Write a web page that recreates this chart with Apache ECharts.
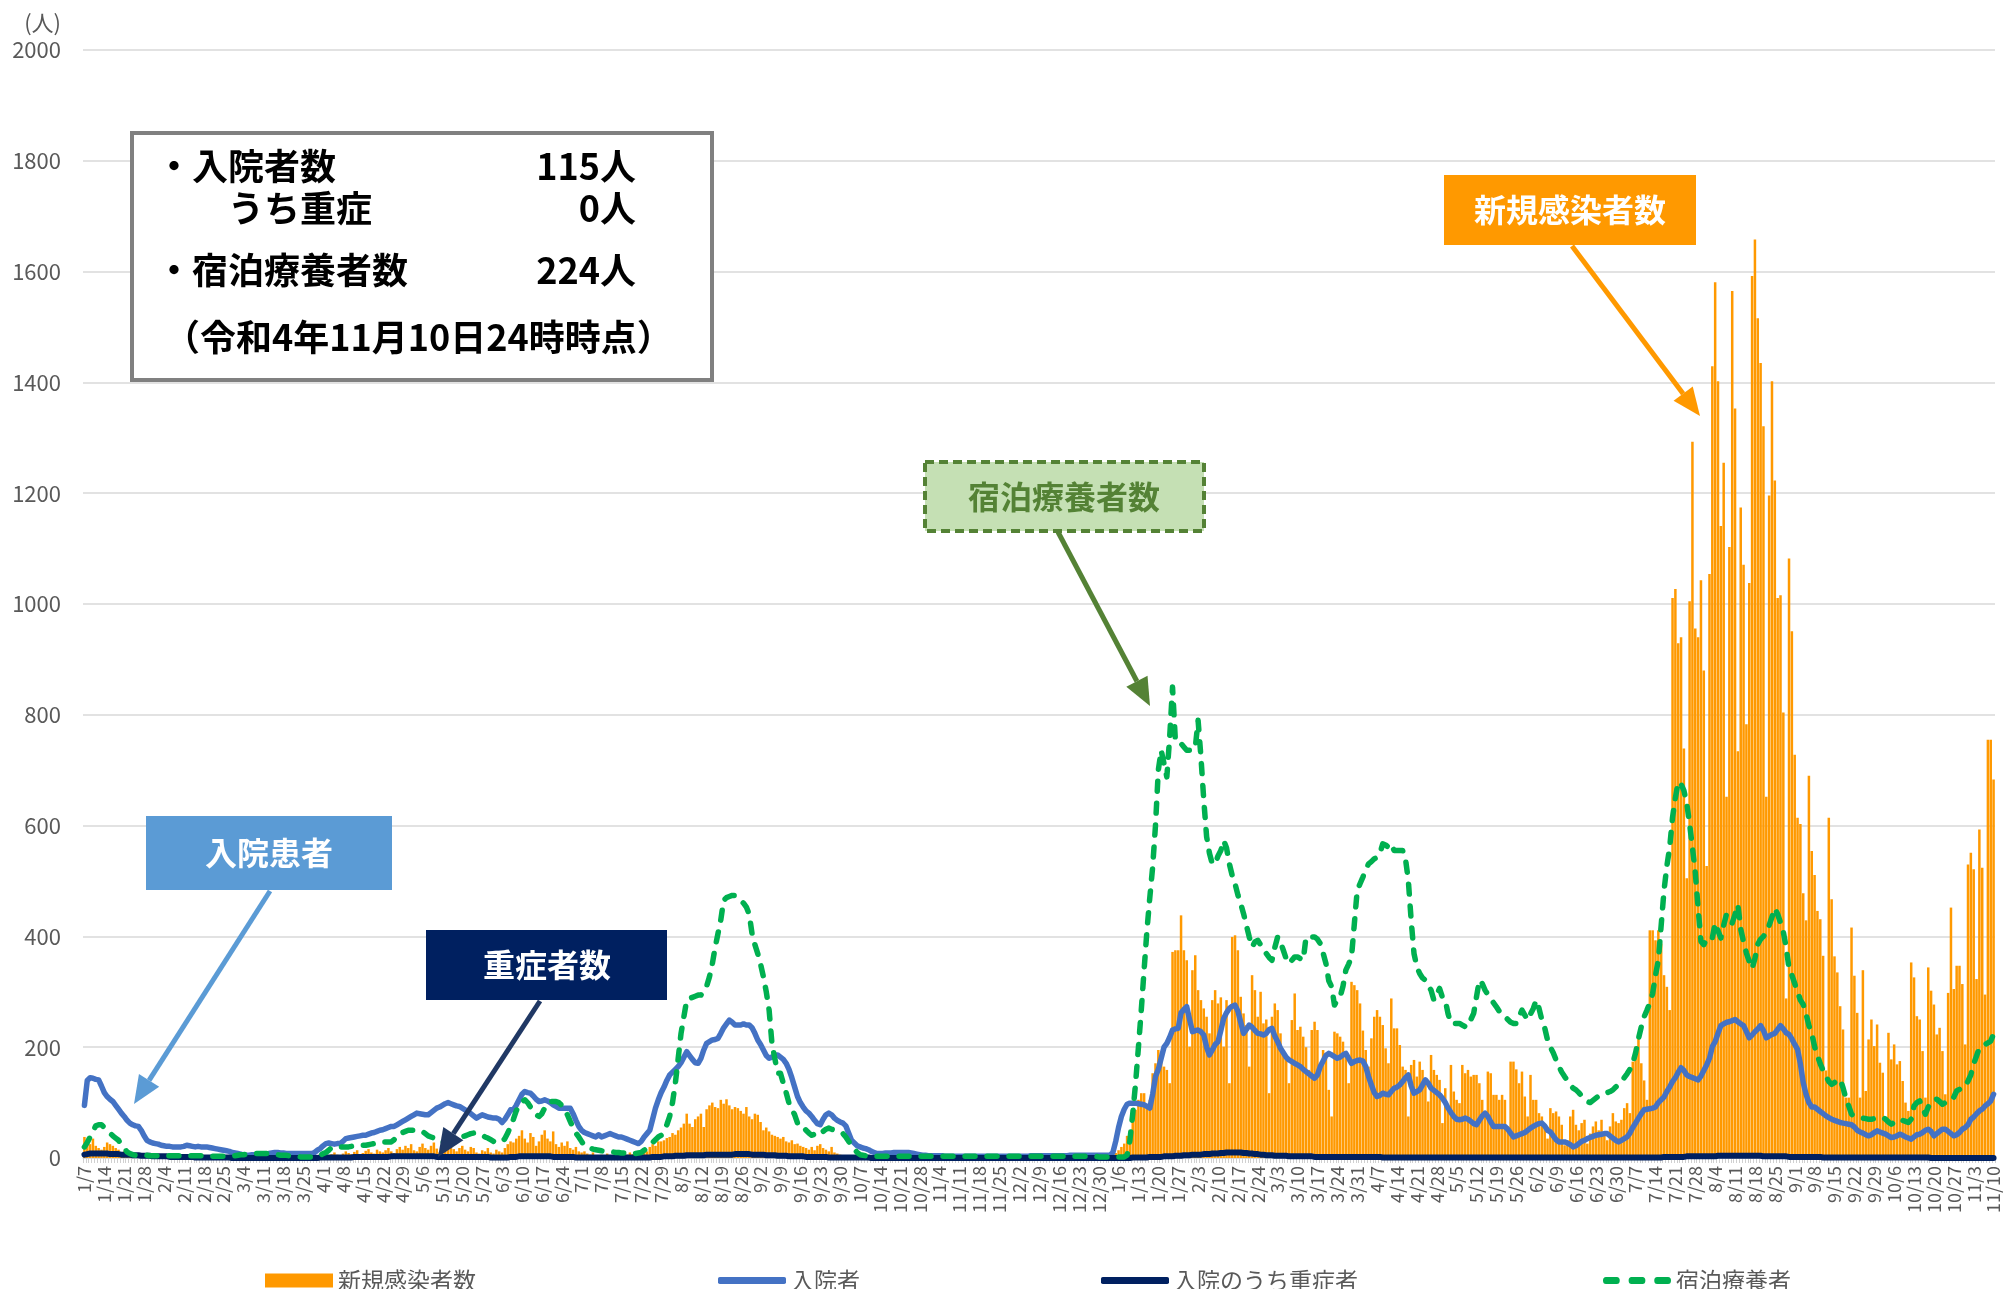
<!DOCTYPE html>
<html><head><meta charset="utf-8">
<script src="https://cdn.jsdelivr.net/npm/echarts@6/dist/echarts.min.js"></script>
<style>html,body{margin:0;padding:0;background:#fff}#c{width:2008px;height:1289px}</style>
</head><body><div id="c"></div>
<script>
// 2021-01-07 .. 2022-11-10 (673 days), one row per week starting on Thursday
const startDate = [2021, 1, 7];
const dayCount = 673;

const newCases = [
38,30,25,35,22,18,15, 20,28,25,22,18,15,10, 12,10,8,9,7,6,5, 6,5,4,6,3,4,3,
3,2,4,3,2,1,2, 2,3,1,2,1,0,1, 1,2,0,1,2,1,0, 1,0,1,2,1,0,1,
2,1,1,0,2,1,3, 2,1,2,1,0,1,2, 1,0,2,1,1,0,1, 2,1,3,2,4,3,5,
6,8,5,7,10,6,4, 8,12,9,7,11,14,6, 9,13,16,10,8,15,12, 10,14,18,12,9,16,20,
15,22,18,25,14,12,20, 26,18,15,22,28,17,10, 20,25,30,22,16,12,18, 22,15,12,20,18,10,8,
14,12,18,10,8,15,12, 10,18,25,30,28,35,40, 50,35,28,45,38,22,30, 42,50,35,30,48,25,20,
28,22,30,18,15,20,12, 10,12,8,6,10,5,4, 6,4,8,5,3,6,4, 5,8,6,10,7,12,9,
14,18,12,20,25,22,30, 30,32,36,38,45,42,50, 55,62,80,62,56,70,75, 80,56,88,95,100,92,90,
105,98,106,95,88,92,90, 85,80,92,75,70,80,78, 65,50,55,48,42,40,38, 35,38,30,28,32,25,26,
22,20,18,15,20,14,22, 25,18,15,12,20,10,8, 6,5,4,3,2,3,2, 2,1,2,1,1,0,1,
1,0,1,0,0,1,0, 0,1,0,0,0,1,0, 0,0,1,0,0,0,0, 0,0,0,1,0,0,0,
0,0,0,0,0,1,0, 0,0,0,0,0,0,0, 0,1,0,0,0,0,0, 0,0,0,0,1,0,0,
0,0,0,0,0,0,1, 0,0,0,1,0,0,0, 0,0,0,0,1,0,1, 1,1,2,3,4,6,9,
14,20,26,40,50,75,87, 105,117,117,93,105,153,171, 195,189,165,159,135,372,375, 375,438,375,357,201,339,366,
303,285,270,255,225,285,303, 279,290,201,285,135,399,402, 375,291,261,240,165,330,303, 255,300,243,250,117,255,279,
267,225,195,180,135,249,297, 231,237,219,200,159,231,246, 231,171,195,180,123,75,228, 225,219,210,190,135,318,312,
303,279,230,195,165,216,255, 267,255,240,198,171,288,234, 234,204,165,159,75,168,177, 147,174,159,140,102,186,159,
150,141,63,126,87,168,120, 105,99,168,153,159,147,150, 150,135,105,81,156,153,114, 114,105,114,105,57,174,174,
160,135,156,111,75,150,105, 105,81,75,55,35,90,81, 84,75,60,23,32,75,87, 60,50,63,69,26,44,57,
66,50,69,45,32,57,81, 66,63,69,90,99,81,174, 201,219,171,140,105,411,411, 393,411,387,330,309,267,1011,
1027,929,940,739,505,1005,1293, 956,940,1043,880,527,1054,1429, 1581,1402,1141,1255,652,1103,1565, 1353,734,1174,1071,783,1038,1592,
1658,1516,1435,1321,652,1196,1402, 1223,1011,1016,804,288,1082,951, 728,614,603,478,429,690,554, 511,446,431,365,158,614,467,
364,335,274,232,109,109,416, 329,262,109,339,121,214,250, 202,241,172,154,73,226,178, 205,169,175,139,100,85,353,
326,256,250,193,109,344,302, 277,223,235,193,115,298,452, 305,347,347,314,205,530,551, 521,323,593,524,295,755,755,
683
];

const hospitalized = [
95,140,145,144,142,141,130, 118,111,106,102,95,88,81, 75,68,63,60,58,57,50, 40,32,29,27,26,25,23,
22,21,21,20,20,20,20, 21,23,22,21,20,21,20, 20,20,19,18,17,16,15, 14,13,12,10,9,8,7,
5,5,5,6,6,7,7, 7,7,8,9,10,10,9, 9,8,8,8,8,8,8, 8,8,8,8,10,14,17,
22,26,27,26,25,26,26, 30,35,36,37,38,39,40, 41,41,43,45,46,48,50, 51,53,55,57,57,60,63,
66,69,72,75,78,81,80, 79,78,78,82,86,90,92, 95,98,100,98,96,94,93, 90,87,84,80,76,72,75,
78,76,74,73,72,72,70, 64,70,78,87,87,95,105, 115,120,118,117,112,106,102, 103,105,103,100,96,93,90,
90,90,90,90,80,68,57, 50,46,44,42,40,38,42, 38,40,42,44,42,40,38, 38,36,34,32,30,28,26,
30,38,44,50,70,90,105, 118,128,140,150,155,160,165, 172,182,192,185,178,172,171, 180,195,207,210,213,214,216,
225,235,242,249,245,240,240, 240,242,240,240,235,225,213, 205,195,185,180,182,185,186, 182,178,171,160,145,128,111,
100,92,85,81,75,68,62, 60,70,78,81,78,72,68, 65,63,58,45,32,27,22, 20,18,17,15,12,10,8,
8,8,9,9,9,10,10, 10,10,10,10,9,8,7, 6,5,5,4,4,4,4, 4,4,3,3,3,3,3,
3,3,3,3,3,3,3, 3,3,3,3,3,3,3, 3,3,3,3,3,3,3, 3,3,3,3,4,4,4,
4,4,4,4,4,4,4, 4,4,4,4,5,5,5, 5,5,5,5,5,5,5, 5,5,5,5,5,10,30,
55,75,88,97,99,99,99, 98,97,96,93,90,115,147, 160,180,200,207,218,231,233, 234,262,268,273,250,228,230,
231,228,222,200,186,195,205, 210,230,252,262,270,274,276, 265,245,225,232,240,236,230, 225,224,222,225,232,234,220,
210,198,190,182,177,174,171, 168,165,160,156,152,148,144, 150,165,175,185,189,186,183, 180,182,186,189,180,171,174,
176,177,175,165,147,132,118, 111,113,117,115,114,120,126, 128,132,138,145,150,130,117, 120,123,132,141,135,126,122,
118,114,108,100,90,82,75, 70,69,70,72,70,66,62, 60,68,76,81,75,65,57, 57,57,57,57,52,45,38,
40,42,44,46,50,54,57, 60,62,63,58,50,47,40, 33,29,29,29,27,24,20, 22,26,30,32,35,37,39,
41,42,43,44,44,40,36, 32,29,32,35,38,45,55, 63,72,80,87,88,89,90, 92,100,105,110,120,128,138,
145,155,163,158,150,147,145, 143,141,148,158,168,180,201, 210,225,239,242,245,246,248, 250,246,242,239,228,217,222,
228,233,239,230,217,220,223, 225,232,239,233,226,223,215, 205,196,170,136,115,100,92, 92,88,84,80,76,73,70,
68,66,64,63,62,61,60, 56,50,47,45,42,40,42, 46,49,47,45,43,40,37, 38,40,43,41,38,36,34,
38,42,43,46,50,52,48, 40,44,48,52,52,48,44, 40,42,46,52,55,60,70, 74,80,85,88,94,98,103,
115
];

const severe = [
6,7,8,8,8,8,8, 8,8,7,7,7,7,6, 6,6,6,5,5,5,4, 4,4,4,3,3,3,3,
3,3,2,2,2,2,2, 2,2,2,2,1,1,1, 1,1,1,1,1,1,1, 1,1,1,0,0,0,0,
0,0,0,0,0,0,0, 0,0,0,0,0,0,0, 0,0,0,0,0,0,0, 0,0,0,0,0,0,1,
1,1,1,1,1,1,1, 1,1,1,1,2,2,2, 2,2,2,2,2,2,2, 2,2,2,3,3,3,3,
3,3,3,3,3,3,3, 3,3,3,3,3,2,2, 2,2,2,2,2,2,2, 2,2,2,2,2,2,2,
2,2,2,1,1,1,1, 1,1,1,2,2,2,3, 3,3,3,3,3,3,3, 3,3,3,3,2,2,2,
2,2,2,2,2,1,1, 1,1,1,1,1,1,1, 1,1,1,1,1,1,1, 1,1,1,1,1,1,1,
1,1,1,1,2,2,2, 2,3,3,3,3,4,4, 4,4,5,5,5,5,5, 5,5,6,6,6,6,6,
6,6,6,6,6,7,7, 7,7,7,7,6,6,6, 6,6,5,5,5,5,4, 4,4,4,3,3,3,3,
3,3,2,2,2,2,2, 2,2,2,1,1,1,1, 1,1,1,1,1,1,1, 1,1,1,1,0,0,0,
0,0,0,0,0,0,0, 0,0,0,0,0,0,0, 0,0,0,0,0,0,0, 0,0,0,0,0,0,0,
0,0,0,0,0,0,0, 0,0,0,0,0,0,0, 0,0,0,0,0,0,0, 0,0,0,0,0,0,0,
0,0,0,0,0,0,0, 0,0,0,0,0,0,0, 0,0,0,0,0,0,0, 0,0,0,0,0,0,0,
0,0,0,0,0,1,1, 1,1,1,1,2,2,2, 2,2,3,3,3,3,4, 4,4,5,5,5,6,6,
6,6,7,7,7,8,8, 8,9,9,10,10,10,10, 10,10,9,9,8,8,7, 7,6,6,5,5,5,4,
4,4,4,4,3,3,3, 3,3,3,3,3,3,2, 2,2,2,2,2,2,2, 2,2,2,2,2,2,2,
2,2,2,2,2,2,2, 2,2,1,1,1,1,1, 1,1,1,1,1,1,1, 1,1,1,1,1,1,1,
1,1,1,1,1,1,1, 1,1,1,1,1,1,1, 1,1,1,1,1,1,1, 1,1,1,1,1,1,1,
1,1,1,1,1,1,1, 1,1,1,1,1,1,1, 1,1,1,1,1,1,1, 1,1,1,1,1,1,1,
1,1,1,1,1,1,1, 1,1,1,1,1,1,1, 1,1,1,1,1,1,1, 1,1,1,2,2,2,2,
2,2,2,2,3,3,3, 3,3,3,3,3,3,3, 3,4,4,4,4,4,4, 4,4,4,4,4,4,4,
4,4,4,3,3,3,3, 3,3,3,3,3,2,2, 2,2,2,2,2,2,2, 2,2,2,1,1,1,1,
1,1,1,1,1,1,1, 1,1,1,1,1,1,1, 1,1,1,1,1,1,1, 1,1,1,1,1,1,1,
1,1,1,1,1,1,0, 0,0,0,0,0,0,0, 0,0,0,0,0,0,0, 0,0,0,0,0,0,0,
0
];

const lodging = [
20,28,38,48,58,60,60, 55,50,45,40,36,32,24, 18,11,8,6,5,5,5, 5,5,4,4,4,4,4,
4,4,4,4,4,4,4, 4,4,4,4,4,4,4, 4,3,3,3,3,3,3, 3,3,3,3,4,5,6,
6,7,7,8,8,8,8, 8,8,8,8,7,6,5, 5,5,4,4,3,3,2, 2,2,2,2,3,4,5,
8,10,14,19,19,19,20, 20,20,20,21,21,22,22, 23,23,24,25,26,27,29, 29,29,29,29,33,39,45,
46,48,50,50,50,50,50, 48,44,40,38,36,32,29, 29,29,29,29,30,33,36, 38,40,42,44,45,45,43,
41,38,36,33,30,29,29, 29,35,45,57,70,85,96, 101,105,100,92,85,78,75, 80,90,98,102,102,102,100,
95,88,78,66,55,45,38, 30,22,20,18,16,15,14, 13,12,12,11,11,10,10, 9,9,9,8,8,8,9,
10,14,18,23,28,33,38, 41,50,60,75,100,135,180, 225,255,285,288,290,292,294, 294,300,310,327,350,380,405,
430,465,470,472,474,474,470, 465,460,453,440,405,385,369, 350,327,300,267,207,180,153, 153,135,118,99,88,78,63,
63,56,50,45,41,43,48, 45,48,52,54,52,50,48, 46,44,38,30,23,16,10, 6,5,4,3,3,3,3,
3,3,3,3,3,3,3, 3,3,3,3,3,3,3, 3,3,3,3,3,3,3, 3,3,3,3,3,3,3,
3,3,3,3,3,3,3, 3,3,3,3,3,3,3, 3,3,3,3,3,3,3, 3,3,3,3,3,3,3,
3,3,3,3,3,3,3, 3,3,3,3,3,3,3, 3,3,3,3,3,3,3, 2,2,2,2,2,2,2,
2,2,2,5,32,80,135, 200,267,340,411,470,525,600, 700,736,712,688,760,850,754, 754,748,742,736,736,736,740,
790,724,646,580,550,531,531, 545,555,573,560,531,510,495, 475,459,441,420,399,381,390, 393,385,375,369,362,357,380,
399,390,375,360,351,357,363, 363,360,357,399,399,399,399, 395,387,370,351,320,309,276, 285,291,310,339,350,363,423,
483,495,507,520,531,535,540, 543,550,567,565,561,567,555, 555,555,555,540,501,429,369, 345,333,325,321,310,303,285,
295,306,290,285,260,243,243, 243,243,240,237,237,250,261, 291,321,315,303,295,288,280, 273,265,258,255,250,245,243,
243,255,267,258,249,260,270, 285,270,249,235,213,200,190, 177,165,155,147,140,132,126, 123,118,112,107,102,100,104,
108,112,114,116,118,120,123, 128,133,138,145,152,160,171, 190,215,237,255,267,280,297, 330,357,420,483,527,561,615,
650,679,675,663,640,603,560, 516,451,391,385,395,400,397, 424,410,397,420,440,430,424, 440,457,413,390,370,355,342,
360,386,395,400,408,420,435, 451,440,425,408,380,342,330, 315,300,285,277,260,239,225, 201,185,170,158,148,138,133,
136,141,142,127,108,94,79, 76,74,73,72,71,70,70, 71,73,73,73,70,65,61, 64,68,70,68,66,64,70,
94,100,103,90,79,92,103, 105,106,102,97,100,103,103, 110,121,124,124,130,139,150, 170,184,199,202,205,208,211,
224
];

const yTicks = { min: 0, max: 2000, interval: 200 };
const seriesNames = ['新規感染者数', '入院者', '入院のうち重症者', '宿泊療養者'];

// category labels M/D for each day
const categories = [];
{
  const d = new Date(startDate[0], startDate[1] - 1, startDate[2]);
  for (let i = 0; i < dayCount; i++) {
    categories.push((d.getMonth() + 1) + '/' + d.getDate());
    d.setDate(d.getDate() + 1);
  }
}

const FONT = '"Noto Sans CJK JP", "Noto Sans", sans-serif';

function arrow(x1, y1, x2, y2, color, w, hl, hw) {
  const dx = x2 - x1, dy = y2 - y1, L = Math.hypot(dx, dy), ux = dx / L, uy = dy / L;
  const bx = x2 - ux * hl, by = y2 - uy * hl, px = -uy, py = ux;
  return [
    { type: 'line', z: 100, shape: { x1: x1, y1: y1, x2: bx, y2: by }, style: { stroke: color, lineWidth: w } },
    { type: 'polygon', z: 100, shape: { points: [[x2, y2], [bx + px * hw / 2, by + py * hw / 2], [bx - px * hw / 2, by - py * hw / 2]] }, style: { fill: color } }
  ];
}
function txt(x, y, s, font, fill, align) {
  return { type: 'text', z: 101, x: x, y: y, style: { text: s, font: font, fill: fill, textAlign: align || 'left', textVerticalAlign: 'middle' } };
}
function box(x, y, w, h, fill, stroke, lw, dash) {
  const st = { fill: fill };
  if (stroke) { st.stroke = stroke; st.lineWidth = lw; }
  if (dash) st.lineDash = dash;
  return { type: 'rect', z: 99, shape: { x: x, y: y, width: w, height: h }, style: st };
}

const infoFont = 'bold 36px ' + FONT;
const labFont = 'bold 32px ' + FONT;
const graphics = [
  txt(61, 23, '(人)', '22px ' + FONT, '#595959', 'right'),
  box(132, 133, 580, 247, '#ffffff', '#808080', 4),
  txt(156, 166, '・入院者数', infoFont, '#000'),
  txt(636, 166, '115人', infoFont, '#000', 'right'),
  txt(228, 208, 'うち重症', infoFont, '#000'),
  txt(636, 208, '0人', infoFont, '#000', 'right'),
  txt(156, 270, '・宿泊療養者数', infoFont, '#000'),
  txt(636, 270, '224人', infoFont, '#000', 'right'),
  txt(164, 337, '（令和4年11月10日24時時点）', infoFont, '#000'),
  box(146, 816, 246, 74, '#5B9BD5'),
  txt(269, 853, '入院患者', labFont, '#fff', 'center'),
  box(426, 930, 241, 70, '#002060'),
  txt(547, 965, '重症者数', labFont, '#fff', 'center'),
  box(925, 462, 279, 69, '#C5E0B4', '#548235', 4, [9, 5]),
  txt(1064, 497, '宿泊療養者数', labFont, '#548235', 'center'),
  box(1444, 175, 252, 70, '#FF9900'),
  txt(1570, 210, '新規感染者数', labFont, '#fff', 'center')
].concat(
  arrow(270, 891, 134, 1104, '#5B9BD5', 5, 28, 24),
  arrow(540, 1001, 438, 1157, '#203864', 5, 28, 24),
  arrow(1058, 532, 1150, 706, '#548235', 5, 28, 24),
  arrow(1572, 246, 1700, 416, '#FF9900', 5, 28, 24)
);

[newCases, hospitalized, severe, lodging].forEach(function (a, k) {
  if (a.length !== dayCount) graphics.push(txt(900, 30 + 30 * k, seriesNames[k] + ' length ' + a.length, 'bold 24px sans-serif', 'red'));
});

const legendText = { fontSize: 23, color: '#595959', fontFamily: FONT };
function legendAt(name, left, icon, h) {
  return { data: [{ name: name, icon: icon }], left: left, top: 1264, itemWidth: 68, itemHeight: h, itemGap: 8,
    textStyle: legendText, selectedMode: false, symbolKeepAspect: false };
}
const dashIcon = 'path://M3,0h11a3,3 0 0 1 0,6h-11a3,3 0 0 1 0,-6z M29,0h11a3,3 0 0 1 0,6h-11a3,3 0 0 1 0,-6z M55,0h11a3,3 0 0 1 0,6h-11a3,3 0 0 1 0,-6z';

const chart = echarts.init(document.getElementById('c'));
chart.setOption({
  animation: false,
  backgroundColor: '#ffffff',
  textStyle: { fontFamily: FONT },
  grid: { left: 83, right: 13, top: 50, bottom: 131, containLabel: false },
  legend: [
    legendAt(seriesNames[0], 260, 'rect', 14),
    legendAt(seriesNames[1], 713, 'roundRect', 7),
    legendAt(seriesNames[2], 1096, 'roundRect', 7),
    legendAt(seriesNames[3], 1598, dashIcon, 7)
  ],
  xAxis: {
    type: 'category', data: categories, boundaryGap: true,
    axisLine: { lineStyle: { color: '#D9D9D9', width: 1 } },
    axisTick: { show: true, interval: 0, length: 5, lineStyle: { color: '#D0D0D0' } },
    axisLabel: { interval: 6, rotate: 90, fontSize: 18, color: '#595959', margin: 8, fontFamily: FONT }
  },
  yAxis: {
    type: 'value', min: yTicks.min, max: yTicks.max, interval: yTicks.interval,
    axisLine: { show: false }, axisTick: { show: false },
    splitLine: { lineStyle: { color: '#D9D9D9', width: 1.5 } },
    axisLabel: { fontSize: 22, color: '#595959', margin: 22, fontFamily: FONT, formatter: function (v) { return String(v); } }
  },
  series: [
    { name: seriesNames[0], type: 'bar', data: newCases, barCategoryGap: '12%', itemStyle: { color: '#FF9900' } },
    { name: seriesNames[1], type: 'line', data: hospitalized, symbol: 'none', clip: false,
      lineStyle: { color: '#4472C4', width: 5.5, cap: 'round', join: 'round' }, itemStyle: { color: '#4472C4' } },
    { name: seriesNames[2], type: 'line', data: severe, symbol: 'none', clip: false,
      lineStyle: { color: '#002060', width: 6, cap: 'round', join: 'round' }, itemStyle: { color: '#002060' } },
    { name: seriesNames[3], type: 'line', data: lodging, symbol: 'none', clip: false,
      lineStyle: { color: '#00B050', width: 5.5, type: [10, 12], cap: 'round', join: 'round' }, itemStyle: { color: '#00B050' } }
  ],
  graphic: { elements: graphics }
});
</script>
</body></html>
